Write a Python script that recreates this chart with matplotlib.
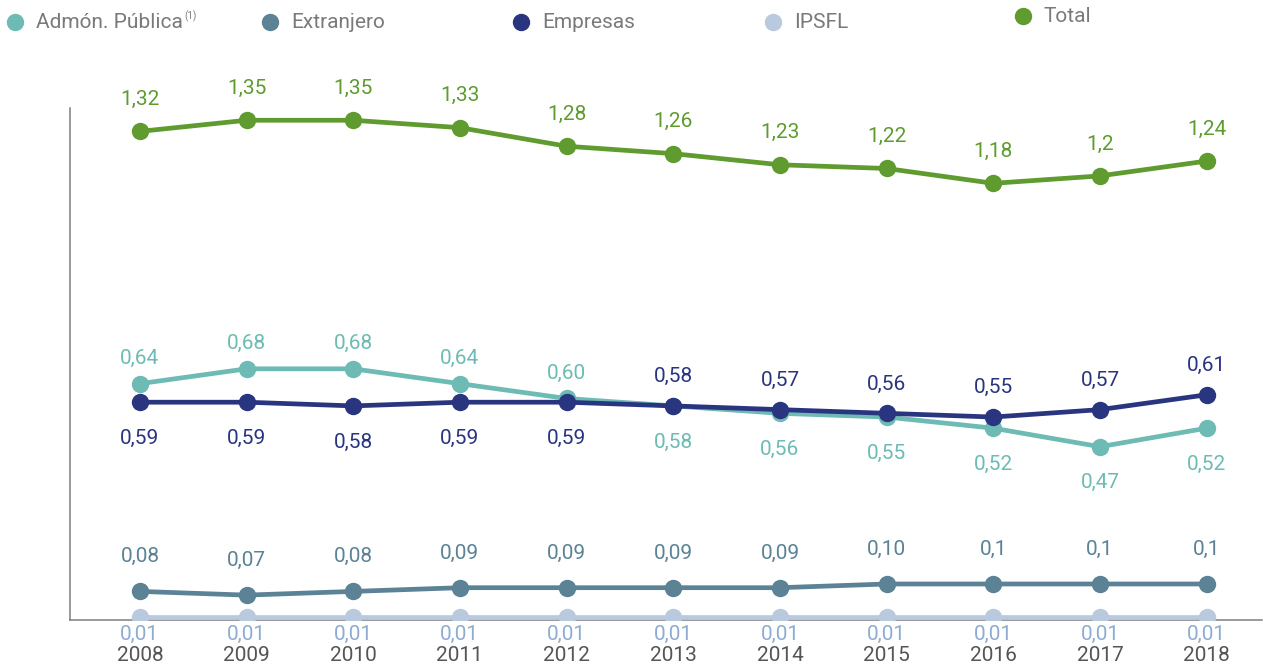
import matplotlib.pyplot as plt

plt.rcParams['font.family'] = ['Roboto', 'DejaVu Sans']

years = [2008, 2009, 2010, 2011, 2012, 2013, 2014, 2015, 2016, 2017, 2018]

admon = [0.64, 0.68, 0.68, 0.64, 0.60, 0.58, 0.56, 0.55, 0.52, 0.47, 0.52]
admon_lbl = ['0,64', '0,68', '0,68', '0,64', '0,60', '0,58', '0,56', '0,55', '0,52', '0,47', '0,52']

empresas = [0.59, 0.59, 0.58, 0.59, 0.59, 0.58, 0.57, 0.56, 0.55, 0.57, 0.61]
empresas_lbl = ['0,59', '0,59', '0,58', '0,59', '0,59', '0,58', '0,57', '0,56', '0,55', '0,57', '0,61']

extranjero = [0.08, 0.07, 0.08, 0.09, 0.09, 0.09, 0.09, 0.10, 0.10, 0.10, 0.10]
extranjero_lbl = ['0,08', '0,07', '0,08', '0,09', '0,09', '0,09', '0,09', '0,10', '0,1', '0,1', '0,1']

ipsfl = [0.01] * 11
ipsfl_lbl = ['0,01'] * 11

total = [1.32, 1.35, 1.35, 1.33, 1.28, 1.26, 1.23, 1.22, 1.18, 1.20, 1.24]
total_lbl = ['1,32', '1,35', '1,35', '1,33', '1,28', '1,26', '1,23', '1,22', '1,18', '1,2', '1,24']

c_admon = '#6dbbb4'
c_extr = '#5b8295'
c_emp = '#2a3580'
c_ipsfl = '#b9cadf'
c_ipsfl_txt = '#8eacd1'
c_total = '#5f9b2f'

fig = plt.figure(figsize=(12.65, 6.68), dpi=100)
ax = fig.add_axes([0.0553, 0.0719, 0.9424, 0.7664])

def series(vals, labels, color, txtcolor, offsets, z):
    ax.plot(years, vals, color=color, lw=3.4, marker='o', markersize=11.5,
            solid_capstyle='round', zorder=z)
    for x, v, s, off in zip(years, vals, labels, offsets):
        ax.annotate(s, (x, v), xytext=(0, off), textcoords='offset points',
                    ha='center', va='center', fontsize=15, color=txtcolor)

# label above/below the point (points)
admon_off = [18] * 5 + [-26] * 6
emp_off = [-26] * 5 + [21] * 6

series(admon, admon_lbl, c_admon, c_admon, admon_off, 3)
series(empresas, empresas_lbl, c_emp, c_emp, emp_off, 4)
series(extranjero, extranjero_lbl, c_extr, c_extr, [25] * 11, 3)
series(ipsfl, ipsfl_lbl, c_ipsfl, c_ipsfl_txt, [-12] * 11, 2)
series(total, total_lbl, c_total, c_total, [23] * 11, 3)

ax.set_xlim(2007.344, 2018.52)
ax.set_ylim(0.003, 1.383)
ax.set_xticks(years)
ax.set_xticklabels([str(y) for y in years], fontsize=15, color='#555555')
ax.tick_params(axis='x', length=0, pad=19)
ax.set_yticks([])
for side in ['top', 'right']:
    ax.spines[side].set_visible(False)
for side in ['left', 'bottom']:
    ax.spines[side].set_color('#7f7f7f')
    ax.spines[side].set_linewidth(1.1)
    ax.spines[side].set_zorder(1)

# legend along the top
legend = [('Admón. Pública', c_admon, 15, 22),
          ('Extranjero', c_extr, 270, 22),
          ('Empresas', c_emp, 521, 22),
          ('IPSFL', c_ipsfl, 773, 22),
          ('Total', c_total, 1023, 16)]
W, H = 1265, 668
for name, col, px, py in legend:
    fig.lines.append(plt.Line2D([px / W], [1 - py / H], transform=fig.transFigure,
                                marker='o', markersize=11.5, color=col, lw=0))
    t = fig.text((px + 21) / W, 1 - py / H, name, fontsize=15, color='#7a7a7a',
                 ha='left', va='center')
    if name == 'Admón. Pública':
        fig.canvas.draw()
        bb = t.get_window_extent()
        fig.text(bb.x1 / W + 0.001, 1 - (py - 6) / H, '(1)', fontsize=7,
                 color='#7a7a7a', ha='left', va='center')

fig.savefig('out.png', dpi=100)
